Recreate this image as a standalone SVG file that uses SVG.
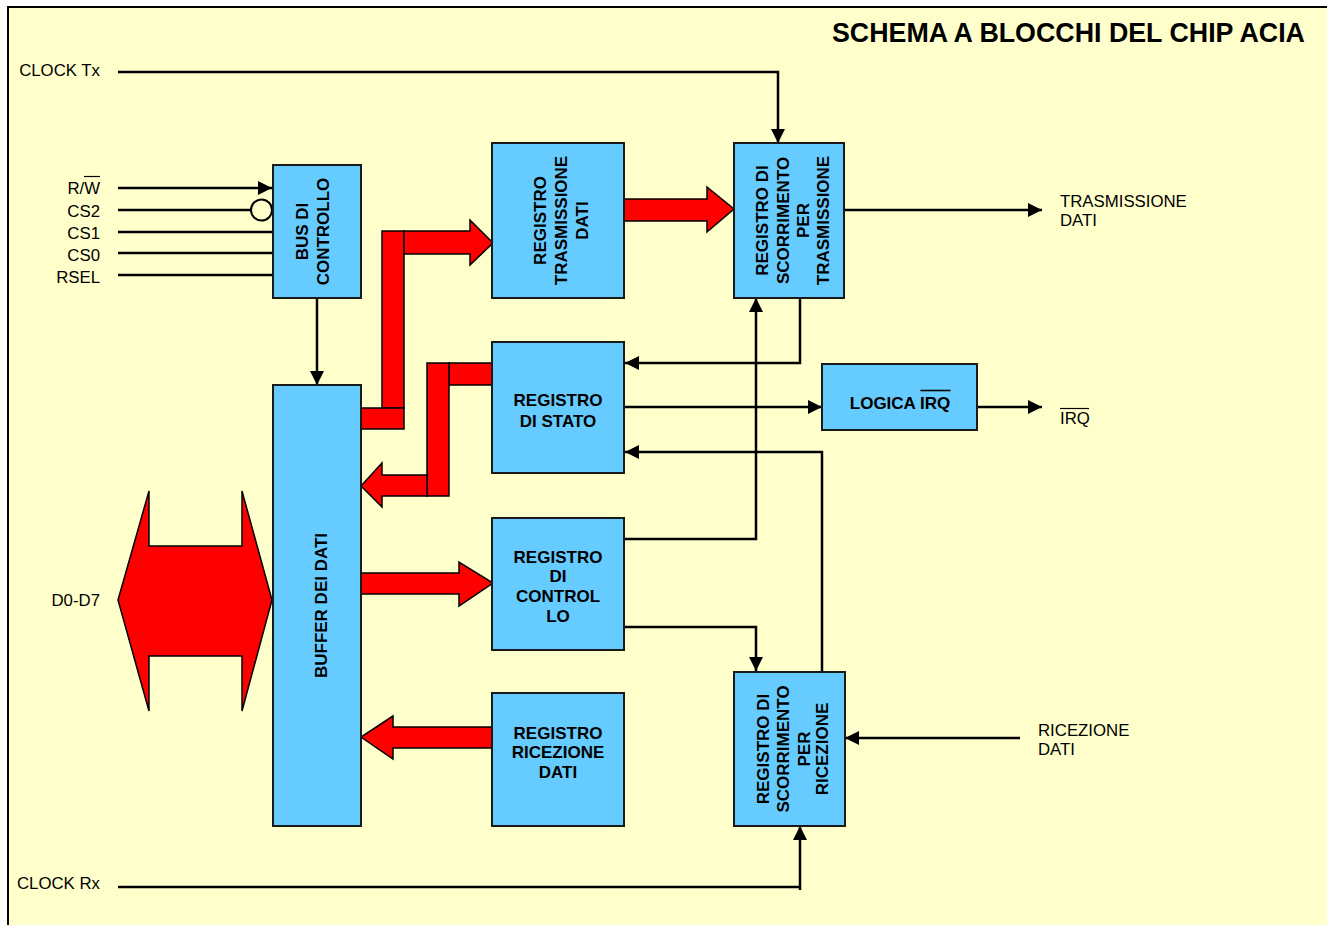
<svg xmlns="http://www.w3.org/2000/svg" width="1327" height="925" viewBox="0 0 1327 925">
<style>
.box{fill:#66CCFF;stroke:#1a1a1a;stroke-width:2}
.red{fill:#FF0000;stroke:#000;stroke-width:1.5;stroke-linejoin:miter}
.w{fill:none;stroke:#000;stroke-width:2.5}
.lbl{font-family:"Liberation Sans",Arial,sans-serif;font-size:16.8px;fill:#000}
.bt{font-family:"Liberation Sans",Arial,sans-serif;font-size:17px;font-weight:bold;fill:#000;text-anchor:middle}
.ov{stroke:#000;stroke-width:1.2}
</style>
<defs>
<marker id="ah" markerUnits="userSpaceOnUse" markerWidth="14" markerHeight="14" refX="13" refY="6.5" orient="auto" viewBox="0 0 13 13">
<path d="M0,0 L13,6.5 L0,13 z" fill="#000"/>
</marker>
</defs>
<rect x="0" y="0" width="1327" height="925" fill="#FFFFFF"/>
<rect x="8" y="7" width="1330" height="930" fill="#FFFFCC" stroke="#000" stroke-width="2"/>
<text x="832" y="42" style="font-family:'Liberation Sans',Arial,sans-serif;font-size:26.8px;font-weight:bold">SCHEMA A BLOCCHI DEL CHIP ACIA</text>

<g id="labels">
<text class="lbl" x="100" y="76" text-anchor="end">CLOCK Tx</text>
<text class="lbl" x="100" y="194" text-anchor="end">R/W</text>
<line class="ov" x1="84" y1="176.5" x2="100" y2="176.5"/>
<text class="lbl" x="100" y="217" text-anchor="end">CS2</text>
<text class="lbl" x="100" y="239" text-anchor="end">CS1</text>
<text class="lbl" x="100" y="261" text-anchor="end">CS0</text>
<text class="lbl" x="100" y="283" text-anchor="end">RSEL</text>
<text class="lbl" x="100" y="606" text-anchor="end">D0-D7</text>
<text class="lbl" x="100" y="889" text-anchor="end">CLOCK Rx</text>
<text class="lbl" x="1060" y="207">TRASMISSIONE</text>
<text class="lbl" x="1060" y="226">DATI</text>
<text class="lbl" x="1060" y="424">IRQ</text>
<line class="ov" x1="1060" y1="408.5" x2="1089" y2="408.5"/>
<text class="lbl" x="1038" y="736">RICEZIONE</text>
<text class="lbl" x="1038" y="755">DATI</text>
</g>

<g id="connectors">
<polyline class="w" points="118,72 778,72 778,143" marker-end="url(#ah)"/>
<line class="w" x1="118" y1="188" x2="272" y2="188" marker-end="url(#ah)"/>
<line class="w" x1="118" y1="210" x2="251" y2="210"/>
<circle cx="261.5" cy="210" r="10.5" fill="#FFFFCC" stroke="#000" stroke-width="2"/>
<line class="w" x1="118" y1="232" x2="273" y2="232"/>
<line class="w" x1="118" y1="253" x2="273" y2="253"/>
<line class="w" x1="118" y1="275" x2="273" y2="275"/>
<line class="w" x1="317" y1="298" x2="317" y2="385" marker-end="url(#ah)"/>
<line class="w" x1="845" y1="210" x2="1042" y2="210" marker-end="url(#ah)"/>
<polyline class="w" points="800,298 800,363 625,363" marker-end="url(#ah)"/>
<line class="w" x1="625" y1="407" x2="822" y2="407" marker-end="url(#ah)"/>
<line class="w" x1="977" y1="407" x2="1042" y2="407" marker-end="url(#ah)"/>
<polyline class="w" points="822,672 822,452 625,452" marker-end="url(#ah)"/>
<polyline class="w" points="625,539 756,539 756,298" marker-end="url(#ah)"/>
<polyline class="w" points="625,627 756,627 756,671" marker-end="url(#ah)"/>
<line class="w" x1="1020" y1="738" x2="845" y2="738" marker-end="url(#ah)"/>
<line class="w" x1="118" y1="887" x2="801" y2="887"/>
<line class="w" x1="800" y1="890" x2="800" y2="826" marker-end="url(#ah)"/>
</g>

<g id="buses">
<polygon class="red" points="118,600 149,491 149,546 242,546 242,491 272,600 242,711 242,656 149,656 149,711"/>
<rect class="red" x="382" y="231" width="22" height="177"/>
<rect class="red" x="361" y="408" width="43" height="21"/>
<polygon class="red" points="404,231 470,231 470,220 493,243 470,265 470,254 404,254"/>
<polygon class="red" points="624,199 707,199 707,187 734,209 707,232 707,221 624,221"/>
<rect class="red" x="449" y="363" width="44" height="22"/>
<rect class="red" x="427" y="363" width="22" height="133"/>
<polygon class="red" points="427,475 382,475 382,463 361,486 382,507 382,496 427,496"/>
<polygon class="red" points="361,573 459,573 459,562 493,583 459,606 459,594 361,594"/>
<polygon class="red" points="493,727 393,727 393,716 361,737 393,759 393,748 493,748"/>
</g>

<g id="bus-controllo">
<rect class="box" x="273" y="165" width="88" height="133"/>
<g transform="translate(317,231.5) rotate(-90)">
<text class="bt" x="0" y="-9.2">BUS DI</text>
<text class="bt" x="0" y="11.8">CONTROLLO</text>
</g>
</g>

<g id="buffer-dati">
<rect class="box" x="273" y="385" width="88" height="441"/>
<g transform="translate(317,605.5) rotate(-90)">
<text class="bt" x="0" y="10">BUFFER DEI DATI</text>
</g>
</g>

<g id="reg-trasmissione">
<rect class="box" x="492" y="143" width="132" height="155"/>
<g transform="translate(558,220.5) rotate(-90)">
<text class="bt" x="0" y="-12">REGISTRO</text>
<text class="bt" x="0" y="9">TRASMISSIONE</text>
<text class="bt" x="0" y="30">DATI</text>
</g>
</g>

<g id="shift-tx">
<rect class="box" x="734" y="143" width="110" height="155"/>
<g transform="translate(789,220.5) rotate(-90)">
<text class="bt" x="0" y="-21">REGISTRO DI</text>
<text class="bt" x="0" y="0">SCORRIMENTO</text>
<text class="bt" x="0" y="20">PER</text>
<text class="bt" x="0" y="40">TRASMISSIONE</text>
</g>
</g>

<g id="reg-stato">
<rect class="box" x="492" y="342" width="132" height="131"/>
<text class="bt" x="558" y="406">REGISTRO</text>
<text class="bt" x="558" y="426.5">DI STATO</text>
</g>

<g id="logica-irq">
<rect class="box" x="822" y="364" width="155" height="66"/>
<text class="bt" x="900" y="409">LOGICA IRQ</text>
<line x1="920.5" y1="390.5" x2="950.5" y2="390.5" stroke="#000" stroke-width="1.6"/>
</g>

<g id="reg-controllo">
<rect class="box" x="492" y="518" width="132" height="132"/>
<text class="bt" x="558" y="563">REGISTRO</text>
<text class="bt" x="558" y="582">DI</text>
<text class="bt" x="558" y="602">CONTROL</text>
<text class="bt" x="558" y="622">LO</text>
</g>

<g id="reg-ricezione">
<rect class="box" x="492" y="693" width="132" height="133"/>
<text class="bt" x="558" y="738.5">REGISTRO</text>
<text class="bt" x="558" y="758">RICEZIONE</text>
<text class="bt" x="558" y="778">DATI</text>
</g>

<g id="shift-rx">
<rect class="box" x="734" y="672" width="111" height="154"/>
<g transform="translate(789,749) rotate(-90)">
<text class="bt" x="0" y="-20">REGISTRO DI</text>
<text class="bt" x="0" y="0">SCORRIMENTO</text>
<text class="bt" x="0" y="20.5">PER</text>
<text class="bt" x="0" y="39">RICEZIONE</text>
</g>
</g>
</svg>
